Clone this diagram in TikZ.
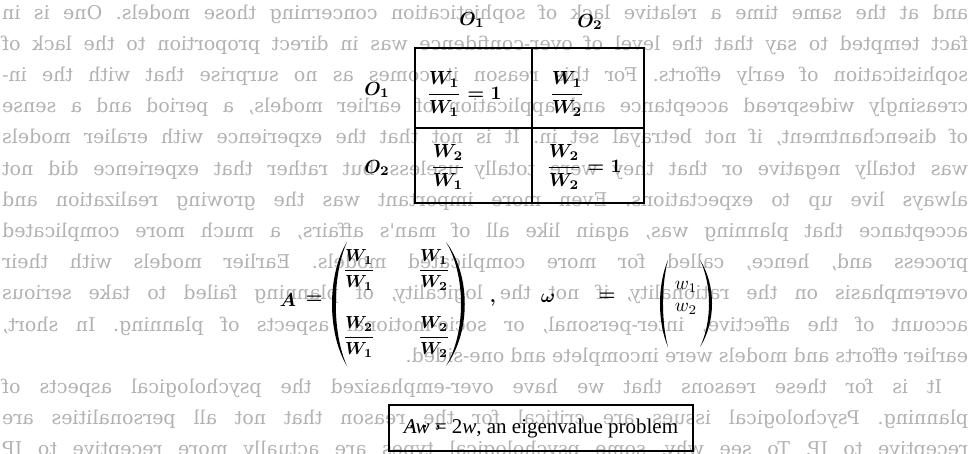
\documentclass[tikz,border=0pt]{standalone}
\usepackage{amsmath}
\usepackage{graphicx}
\usepackage{fontspec}
\setmainfont{Liberation Serif}
\newfontfamily\ghostfont{DejaVu Serif}
\newcommand\ghostline[1]{\reflectbox{\makebox[966pt][s]{#1}}}
\newcommand\mbig[1]{\scalebox{1.9}{\boldmath$#1$}}
\newcommand\mmid[1]{\scalebox{1.75}{\boldmath$#1$}}
\newcommand\msml[1]{\scalebox{1.9}{$#1$}}
\begin{document}
\frenchspacing
\begin{tikzpicture}[x=1pt,y=-1pt,
  ghost/.style={anchor=west, inner sep=0pt, text=black!30, font=\ghostfont\fontsize{19}{21}\selectfont},
  mth/.style={inner sep=0pt},
  rulew/.style={line width=1.3pt},
  parenfill/.style={fill=black}]
\fill[white] (0,0) rectangle (971,453);
\useasboundingbox (0,0) rectangle (971,453);
% show-through text from the back of the page (mirrored)
\node[ghost] (g1) at (2,14) {\ghostline{and at the same time a relative lack of sophistication concerning those models. One is in}};
\node[ghost] (g2) at (2,45.2) {\ghostline{fact tempted to say that the level of over-confidence was in direct proportion to the lack of}};
\node[ghost] (g3) at (2,76.4) {\ghostline{sophistication of early efforts. For this reason it comes as no surprise that with the in-}};
\node[ghost] (g4) at (2,107.6) {\ghostline{creasingly widespread acceptance and application of earlier models, a period and a sense}};
\node[ghost] (g5) at (2,138.8) {\ghostline{of disenchantment, if not betrayal set in. It is not that the experience with eralier models}};
\node[ghost] (g6) at (2,170) {\ghostline{was totally negative or that they were totally useless but rather that experience did not}};
\node[ghost] (g7) at (2,201.2) {\ghostline{always live up to expectations. Even more important was the growing realization and}};
\node[ghost] (g8) at (2,232.4) {\ghostline{acceptance that planning was, again like all of man's affairs, a much more complicated}};
\node[ghost] (g9) at (2,263.6) {\ghostline{process and, hence, called for more complicated models. Earlier models with their}};
\node[ghost] (g10) at (2,294.8) {\ghostline{overemphasis on the rationality, if not the logicality, of planning failed to take serious}};
\node[ghost] (g11) at (2,326) {\ghostline{account of the affective, inter-personal, or socio-motional aspects of planning. In short,}};
\node[ghost] (g12) at (2,357.2) {\reflectbox{\makebox[966pt][l]{earlier efforts and models were incomplete and one-sided.}}};
\node[ghost] (g13) at (2,388.4) {\reflectbox{\makebox[966pt][r]{\makebox[940pt][s]{It is for these reasons that we have over-emphasized the psychological aspects of}}}};
\node[ghost] (g14) at (2,419.6) {\ghostline{planning. Psychological issues are critical for the reason that not all personalities are}};
\node[ghost] (g15) at (2,450.8) {\ghostline{receptive to IP. To see why, some psychological types are actually more receptive to IP}};
% table
\node[mth] (h1) at (472,20) {\mbig{O_1}};
\node[mth] (h2) at (590,22) {\mbig{O_2}};
\node[mth] (r1) at (377,90) {\mbig{O_1}};
\node[mth] (r2) at (377,168) {\mbig{O_2}};
\node[draw, rulew, minimum width=229pt, minimum height=155pt, inner sep=0pt] (tbl) at (529.5,125.5) {};
\coordinate (vt) at (532,48); \coordinate (vb) at (532,203);
\coordinate (hl) at (415,128); \coordinate (hr) at (644,128);
\draw[rulew] (vt) -- (vb);
\draw[rulew] (hl) -- (hr);
\node[mth] (c11) at (464,94) {\mbig{\dfrac{W_1}{W_1} = 1}};
\node[mth] (c12) at (567,94) {\mbig{\dfrac{W_1}{W_2}}};
\node[mth] (c21) at (448,167) {\mbig{\dfrac{W_2}{W_1}}};
\node[mth] (c22) at (584,167) {\mbig{\dfrac{W_2}{W_2} = 1}};
% matrix A
\node[mth] (A) at (288,300) {\mbig{A}};
\node[mth] (eqA) at (314,300) {\mbig{=}};
\node[mth] (m11) at (359,270) {\mmid{\dfrac{W_1}{W_1}}};
\node[mth] (m12) at (434,270) {\mmid{\dfrac{W_1}{W_2}}};
\node[mth] (m21) at (359,337) {\mmid{\dfrac{W_2}{W_1}}};
\node[mth] (m22) at (434,337) {\mmid{\dfrac{W_2}{W_2}}};
\fill[parenfill] (347,242) .. controls (327,275) and (327,333) .. (347,366) .. controls (332,333) and (332,275) .. (347,242) -- cycle;
\fill[parenfill] (446,242) .. controls (471,275) and (471,333) .. (446,366) .. controls (466,333) and (466,275) .. (446,242) -- cycle;
\node[mth] (cm) at (493,303) {\mbig{,}};
% vector omega
\node[mth] (om) at (548,298) {\mbig{\omega}};
\node[mth] (eqw) at (607,297) {\mbig{=}};
\node[mth] (w1) at (686,287) {\msml{w_1}};
\node[mth] (w2) at (686,309) {\msml{w_2}};
\fill[parenfill] (668,260) .. controls (657.3,285) and (657.3,322) .. (668,347) .. controls (661.3,322) and (661.3,285) .. (668,260) -- cycle;
\fill[parenfill] (700,260) .. controls (716,285) and (716,322) .. (700,347) .. controls (712,322) and (712,285) .. (700,260) -- cycle;
% bottom line
\node[inner sep=0pt, font=\fontsize{21}{24}\selectfont] (dots) at (425,428) {.\hspace{8pt}.\hspace{8pt},};
\node[draw, line width=1.2pt, minimum width=304pt, minimum height=46pt, inner sep=0pt, font=\fontsize{21}{24}\selectfont] (eig) at (541,428) {\textit{Aw} = 2\textit{w}, an eigenvalue problem};
\end{tikzpicture}
\end{document}
